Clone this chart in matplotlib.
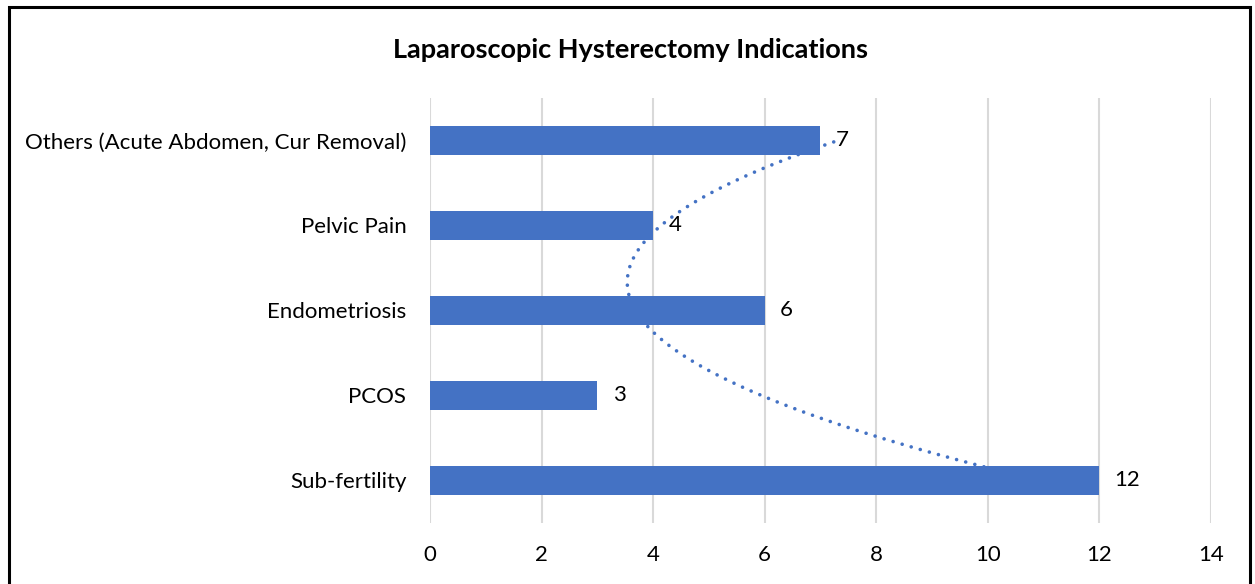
import numpy as np
import matplotlib.pyplot as plt
from matplotlib.patches import Rectangle

categories = ["Sub-fertility", "PCOS", "Endometriosis", "Pelvic Pain",
              "Others (Acute Abdomen, Cur Removal)"]
counts = [12, 3, 6, 4, 7]
x_ticks = [0, 2, 4, 6, 8, 10, 12, 14]

BAR_COLOR = "#4472C4"
plt.rcParams['font.family'] = ['Lato', 'DejaVu Sans']

fig = plt.figure(figsize=(12.55, 5.84), dpi=100)
ax = fig.add_axes([0.3426, 0.1045, 0.6223, 0.7277])

pos = np.arange(len(categories))
ax.barh(pos, counts, height=0.34, color=BAR_COLOR, zorder=3)

# polynomial (order 2) trendline like excel, drawn behind bars
coef = np.polyfit(pos, counts, 2)
tx = np.linspace(pos[0], pos[-1], 200)
ax.plot(np.polyval(coef, tx), tx, color=BAR_COLOR, linestyle=(0, (0.01, 2.6)),
        linewidth=2.6, dash_capstyle='round', zorder=2)

for p, v in zip(pos, counts):
    ax.annotate(str(v), (v, p), xytext=(11, 0), textcoords='offset points',
                ha='left', va='center', fontsize=16, color='black', zorder=4)

ax.set_xlim(0, 14)
ax.set_ylim(-0.5, 4.5)
ax.set_xticks(x_ticks)
ax.set_yticks(pos)
ax.set_yticklabels(categories)
ax.tick_params(axis='both', length=0, labelsize=16, colors='black')
ax.tick_params(axis='x', pad=16)
ax.tick_params(axis='y', pad=17)
ax.grid(axis='x', color='#D9D9D9', linewidth=1.5, zorder=0)
ax.set_axisbelow(True)
for s in ax.spines.values():
    s.set_visible(False)

fig.text(0.502, 0.915, "Laparoscopic Hysterectomy Indications", ha='center',
         va='center', fontsize=19.5, fontweight='bold')

fig.patches.append(Rectangle((9 / 1255, -0.05), 1241 / 1255, 1 - 7 / 584 + 0.05,
                             transform=fig.transFigure, fill=False,
                             edgecolor='black', linewidth=2.2))

fig.savefig("out.png", dpi=100)
